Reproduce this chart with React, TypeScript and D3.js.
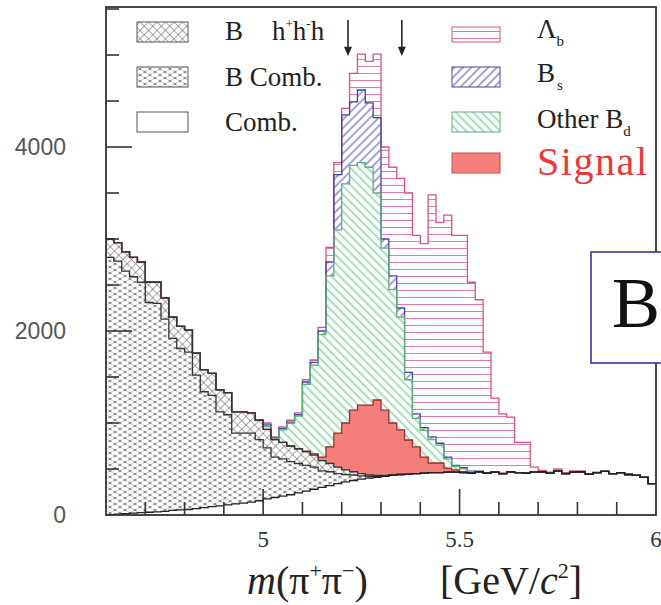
import React from 'react';
import * as d3 from 'd3';

// Histogram binning: 70 bins of 0.02 GeV from 4.6 to 6.0
const massLow = 4.6;
const massHigh = 6.0;
const nBins = 70;

// Component contents per bin (stack order, bottom to top)
const comb = [5, 10, 15, 20, 25, 30, 35, 40, 50, 55,
  60, 70, 80, 90, 100, 110, 120, 130, 140, 155,
  175, 190, 205, 220, 240, 260, 280, 300, 320, 340,
  360, 375, 390, 400, 410, 420, 430, 440, 445, 450,
  455, 460, 460, 465, 465, 460, 455, 470, 455, 465,
  450, 470, 460, 455, 465, 470, 455, 480, 450, 465,
  470, 445, 460, 475, 450, 460, 440, 430, 410, 340];
const bComb = [2795, 2750, 2635, 2570, 2505, 2280, 2265, 2090, 1870, 1755,
  1710, 1450, 1260, 1210, 1020, 980, 770, 760, 750, 665,
  555, 440, 405, 360, 320, 280, 240, 180, 150, 110,
  80, 60, 35, 20, 10, 5, 5, 0, 0, 0,
  0, 0, 0, 0, 0, 0, 0, 0, 0, 0,
  0, 0, 0, 0, 0, 0, 0, 0, 0, 0,
  0, 0, 0, 0, 0, 0, 0, 0, 0, 0];
const bhhh = [200, 200, 210, 210, 220, 220, 230, 230, 230, 240,
  240, 240, 240, 240, 240, 240, 230, 230, 220, 210,
  200, 190, 180, 170, 160, 150, 130, 110, 90, 70,
  50, 35, 25, 15, 10, 5, 0, 0, 0, 0,
  0, 0, 0, 0, 0, 0, 0, 0, 0, 0,
  0, 0, 0, 0, 0, 0, 0, 0, 0, 0,
  0, 0, 0, 0, 0, 0, 0, 0, 0, 0];
const signal = [0, 0, 0, 0, 0, 0, 0, 0, 0, 0,
  0, 0, 0, 0, 0, 0, 0, 0, 0, 0,
  0, 0, 0, 0, 0, 0, 15, 40, 180, 370,
  510, 670, 745, 760, 820, 710, 565, 485, 370, 290,
  175, 105, 105, 45, 25, 10, 0, 0, 0, 0,
  0, 0, 0, 0, 0, 0, 0, 0, 0, 0,
  0, 0, 0, 0, 0, 0, 0, 0, 0, 0];
const otherBd = [0, 0, 0, 0, 0, 0, 0, 0, 0, 0,
  0, 0, 0, 0, 0, 0, 0, 0, 0, 0,
  30, 10, 135, 245, 355, 730, 965, 1330, 1860, 2210,
  2600, 2660, 2635, 2585, 2250, 1760, 1450, 1225, 655, 310,
  290, 255, 195, 100, 40, 35, 15, 5, 0, 0,
  0, 0, 0, 0, 0, 0, 0, 0, 0, 0,
  0, 0, 0, 0, 0, 0, 0, 0, 0, 0];
const bs = [0, 0, 0, 0, 0, 0, 0, 0, 0, 0,
  0, 0, 0, 0, 0, 0, 0, 0, 0, 0,
  20, 5, 15, 15, 15, 25, 30, 40, 150, 600,
  750, 690, 790, 700, 820, 100, 150, 100, 80, 50,
  30, 30, 20, 20, 10, 10, 8, 3, 0, 0,
  0, 0, 0, 0, 0, 0, 0, 0, 0, 0,
  0, 0, 0, 0, 0, 0, 0, 0, 0, 0];
const lambdaB = [0, 0, 0, 0, 0, 0, 0, 0, 0, 0,
  0, 0, 0, 0, 0, 0, 0, 0, 0, 0,
  20, 15, 17, 20, 20, 25, 25, 40, 160, 130,
  70, 310, 390, 450, 690, 1000, 1180, 1410, 1950, 1940,
  2000, 2630, 2400, 2630, 2500, 2525, 2052, 1862, 1315, 805,
  650, 595, 330, 335, 55, 15, 10, 20, 10, 15,
  10, 5, 5, 0, 0, 0, 0, 0, 0, 0];

const yMax = 5522;
const yMinorTicks = d3.range(0, 5501, 500);
const yLabels = [0, 2000, 4000];
const xLabels = [5, 5.5, 6];
const arrowMasses = [5.216, 5.353];

const keys = ['comb', 'bComb', 'bhhh', 'signal', 'otherBd', 'bs', 'lambdaB'];
const series: Record<string, number[]> = { comb, bComb, bhhh, signal, otherBd, bs, lambdaB };

const styles: Record<string, { fill: string; stroke: string }> = {
  comb: { fill: '#ffffff', stroke: '#222' },
  bComb: { fill: 'url(#pHex)', stroke: '#333' },
  bhhh: { fill: 'url(#pDiamond)', stroke: '#333' },
  signal: { fill: '#f47e79', stroke: '#9b2a2a' },
  otherBd: { fill: 'url(#pGreen)', stroke: '#5fae7f' },
  bs: { fill: 'url(#pBlue)', stroke: '#4444a4' },
  lambdaB: { fill: 'url(#pPink)', stroke: '#d8508c' },
};

const serif = '"Liberation Serif", "Times New Roman", serif';
const sans = '"Liberation Sans", Arial, sans-serif';

export default function App() {
  const W = 661, H = 605;
  const x = d3.scaleLinear().domain([massLow, massHigh]).range([106, 656]);
  const y = d3.scaleLinear().domain([0, yMax]).range([515, 7]);
  const bw = (massHigh - massLow) / nBins;
  const edges = d3.range(nBins + 1).map(i => massLow + i * bw);

  const rows = d3.range(nBins).map(i => {
    const r: any = {};
    keys.forEach(k => { r[k] = series[k][i]; });
    return r;
  });
  const stacked = d3.stack<any>().keys(keys)(rows);

  type P = { m: number; lo: number; hi: number };
  const stepPts = (s: any): P[] =>
    s.flatMap((d: any, i: number) => [
      { m: edges[i], lo: d[0], hi: d[1] },
      { m: edges[i + 1], lo: d[0], hi: d[1] },
    ]);
  const area = d3.area<P>().x(p => x(p.m)).y0(p => y(p.lo)).y1(p => y(p.hi));
  const line = d3.line<P>().x(p => x(p.m)).y(p => y(p.hi));

  const xMinor = d3.range(47, 60).map(v => v / 10);

  return (
    <svg width={W} height={H} style={{ position: 'absolute', left: 0, top: 0, background: '#fff' }}>
      <defs>
        <pattern id="pHex" width={10} height={6} patternUnits="userSpaceOnUse">
          <rect width={10} height={6} fill="#8e8e8e" />
          <ellipse cx={5} cy={3} rx={3.7} ry={1.9} fill="#fff" />
          <ellipse cx={0} cy={0} rx={3.7} ry={1.9} fill="#fff" />
          <ellipse cx={10} cy={0} rx={3.7} ry={1.9} fill="#fff" />
          <ellipse cx={0} cy={6} rx={3.7} ry={1.9} fill="#fff" />
          <ellipse cx={10} cy={6} rx={3.7} ry={1.9} fill="#fff" />
        </pattern>
        <pattern id="pDiamond" width={6} height={6} patternUnits="userSpaceOnUse" patternTransform="rotate(45)">
          <rect width={6} height={6} fill="#fff" />
          <path d="M0,0 H6 M0,0 V6" stroke="#555" strokeWidth={1} />
        </pattern>
        <pattern id="pGreen" width={6} height={6} patternUnits="userSpaceOnUse" patternTransform="rotate(45)">
          <rect width={6} height={6} fill="#fbfffc" />
          <path d="M0,3 H6" stroke="#7cc69a" strokeWidth={1.2} />
        </pattern>
        <pattern id="pBlue" width={6} height={6} patternUnits="userSpaceOnUse" patternTransform="rotate(-45)">
          <rect width={6} height={6} fill="#fff" />
          <path d="M0,3 H6" stroke="#5a5ab4" strokeWidth={1.1} />
        </pattern>
        <pattern id="pPink" width={8} height={7} patternUnits="userSpaceOnUse">
          <rect width={8} height={7} fill="#fff" />
          <path d="M0,3.5 H8" stroke="#e27aa6" strokeWidth={1} />
        </pattern>
      </defs>

      {/* stacked histogram areas */}
      {stacked.map(s => (
        <path key={'a' + s.key} d={area(stepPts(s)) || ''} fill={styles[s.key].fill} stroke="none" />
      ))}
      {/* outlines, top layer first so lower layers draw over */}
      {[...stacked].reverse().map(s => (
        <path key={'l' + s.key} d={line(stepPts(s)) || ''} fill="none"
          stroke={styles[s.key].stroke} strokeWidth={1.3} />
      ))}

      {/* frame */}
      <rect x={106} y={7} width={550} height={508} fill="none" stroke="#333" strokeWidth={1.8} />

      {/* y ticks */}
      {yMinorTicks.filter(v => v > 0).map(v => (
        <line key={'yt' + v} x1={106} x2={106 + (v % 2000 === 0 ? 26 : 13)} y1={y(v)} y2={y(v)}
          stroke="#333" strokeWidth={1.6} />
      ))}
      {/* x ticks */}
      {xMinor.map(v => (
        <line key={'xt' + v} x1={x(v)} x2={x(v)} y1={515}
          y2={515 - (Math.abs(v * 2 - Math.round(v * 2)) < 1e-6 ? 26 : 13)} stroke="#333" strokeWidth={1.6} />
      ))}

      {/* y labels */}
      {yLabels.map(v => (
        <text key={'yl' + v} x={66} y={y(v) + 8} textAnchor="end" fontFamily={sans} fontSize={23} fill="#555">{v}</text>
      ))}
      {/* x labels */}
      {xLabels.map(v => (
        <text key={'xl' + v} x={x(v)} y={547} textAnchor="middle" fontFamily={serif} fontSize={23} fill="#333">{v}</text>
      ))}

      {/* x title */}
      <text x={247} y={594} fontFamily={serif} fontSize={40} fill="#222">
        <tspan fontStyle="italic">m</tspan>
        <tspan>(π</tspan>
        <tspan fontSize={22} dy={-16}>+</tspan>
        <tspan dy={16}>π</tspan>
        <tspan fontSize={22} dy={-16}>−</tspan>
        <tspan dy={16}>)</tspan>
      </text>
      <text x={440} y={594} fontFamily={serif} fontSize={40} fill="#222">
        <tspan>[GeV/</tspan>
        <tspan fontStyle="italic">c</tspan>
        <tspan fontSize={22} dy={-16}>2</tspan>
        <tspan dy={16}>]</tspan>
      </text>

      {/* arrows */}
      {arrowMasses.map(m => (
        <g key={'ar' + m}>
          <line x1={x(m)} x2={x(m)} y1={y(5380)} y2={y(5060)} stroke="#222" strokeWidth={1.6} />
          <path d={`M${x(m) - 4},${y(5090)} L${x(m) + 4},${y(5090)} L${x(m)},${y(4990)} Z`} fill="#222" />
        </g>
      ))}

      {/* left legend */}
      <rect x={137} y={22} width={51} height={20} fill="url(#pDiamond)" stroke="#555" />
      <rect x={137} y={67} width={51} height={20} fill="url(#pHex)" stroke="#555" />
      <rect x={137} y={112} width={51} height={20} fill="#fff" stroke="#555" />
      <text x={225} y={40} fontFamily={serif} fontSize={27} fill="#222">B</text>
      <text x={272} y={40} fontFamily={serif} fontSize={27} fill="#222">
        <tspan>h</tspan>
        <tspan fontSize={13} dy={-12}>+</tspan>
        <tspan dy={12}>h</tspan>
        <tspan fontSize={13} dy={-12}>-</tspan>
        <tspan dy={12}>h</tspan>
      </text>
      <text x={225} y={86} fontFamily={serif} fontSize={27} fill="#222">B Comb.</text>
      <text x={225} y={131} fontFamily={serif} fontSize={27} fill="#222">Comb.</text>

      {/* right legend */}
      <rect x={452} y={27} width={48} height={15} fill="url(#pPink)" stroke="#d8508c" />
      <rect x={452} y={67} width={48} height={20} fill="url(#pBlue)" stroke="#4444a4" />
      <rect x={452} y={112} width={48} height={20} fill="url(#pGreen)" stroke="#5fae7f" />
      <rect x={452} y={153} width={48} height={20} fill="#f47e79" stroke="#c05050" />
      <text x={537} y={38} fontFamily={serif} fontSize={27} fill="#222">
        <tspan>Λ</tspan><tspan fontSize={15} dy={8}>b</tspan>
      </text>
      <text x={537} y={82} fontFamily={serif} fontSize={27} fill="#222">
        <tspan>B</tspan><tspan fontSize={15} dy={8} dx={2}>s</tspan>
      </text>
      <text x={537} y={128} fontFamily={serif} fontSize={27} fill="#222">
        <tspan>Other B</tspan><tspan fontSize={15} dy={8}>d</tspan>
      </text>
      <text x={537} y={175} fontFamily={serif} fontSize={40} fill="#e83a3a" textLength={110}>Signal</text>

      {/* B box */}
      <rect x={591} y={252} width={90} height={111} fill="#fff" stroke="#3434a4" strokeWidth={1.6} />
      <text x={612} y={327} fontFamily={serif} fontSize={72} fill="#111">B</text>
    </svg>
  );
}
